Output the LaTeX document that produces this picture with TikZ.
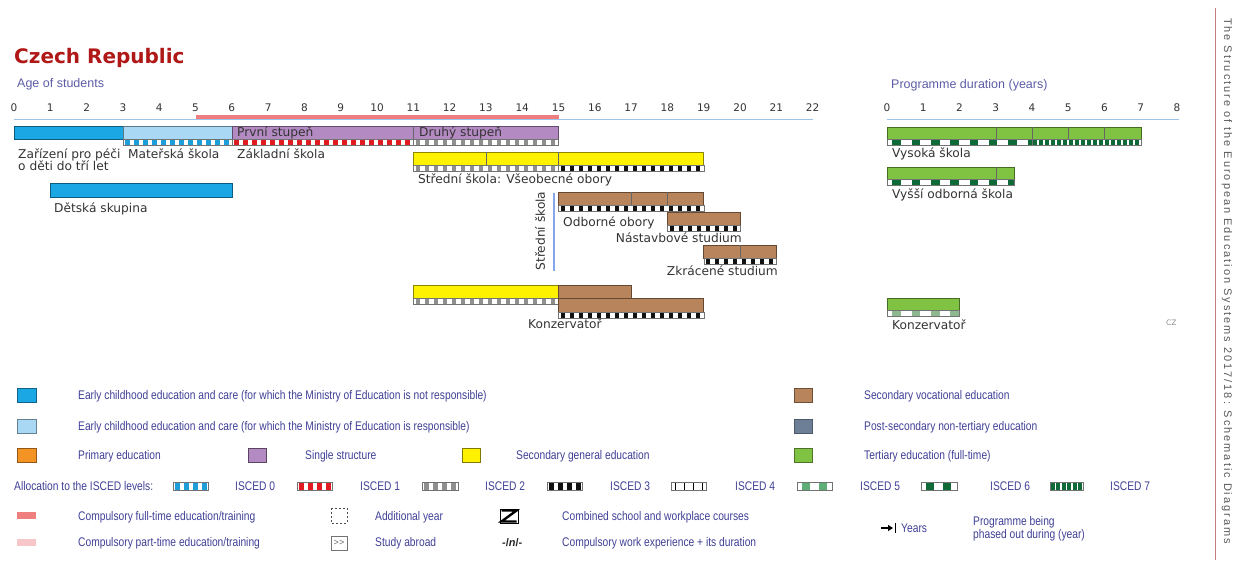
\documentclass[tikz,border=0pt]{standalone}
\usepackage{fontspec}
\setmainfont{DejaVu Sans}
\newfontfamily\arial{Liberation Sans}
\newfontfamily\narrow[FakeStretch=0.82]{Liberation Sans}
\newfontfamily\spaced[LetterSpace=18]{Liberation Sans}
\usetikzlibrary{arrows.meta}
\definecolor{ecblue}{HTML}{1AA7E4}
\definecolor{eclight}{HTML}{A8D8F3}
\definecolor{prim}{HTML}{F39323}
\definecolor{single}{HTML}{B38AC2}
\definecolor{secgen}{HTML}{FFF200}
\definecolor{secvoc}{HTML}{B8845B}
\definecolor{postsec}{HTML}{6D7F97}
\definecolor{tert}{HTML}{80C242}
\definecolor{titlered}{HTML}{B01818}
\definecolor{legtxt}{HTML}{3F3F96}
\definecolor{axblue}{HTML}{9CC3E8}
\definecolor{compred}{HTML}{EF7F7F}
\definecolor{comppink}{HTML}{F6C6C8}
\definecolor{labgray}{HTML}{333333}
\definecolor{is0}{HTML}{1E9ED8}
\definecolor{is1}{HTML}{E01B22}
\definecolor{is2}{HTML}{8F8F8F}
\definecolor{is3}{HTML}{111111}
\definecolor{is5}{HTML}{5FAE78}
\definecolor{is6}{HTML}{0E6A36}
\definecolor{is5k}{HTML}{8DB890}
\definecolor{sideline}{HTML}{C48080}
\newcommand\ax[1]{(14+36.3*(#1))}
\newcommand\dx[1]{(887+36.25*(#1))}
\newcommand\ebar[5]{%
  \filldraw[fill=#5,draw=#5!55!black,line width=0.5pt] ({#1},{#3}) rectangle ({#2},{#3+#4});}
\newcommand\estrip[7]{%
  \begin{scope}
    \clip ({#1},{#3}) rectangle ({#2},{#3+#4});
    \fill[white] ({#1},{#3}) rectangle ({#2},{#3+#4});
    \pgfmathtruncatemacro\nblk{((#2)-(#1))/(#6)+1}
    \foreach \k in {0,...,\nblk}
      \fill[#5] ({#1+\k*#6+(#6-#7)/2},{#3}) rectangle ++({#7},{#4});
  \end{scope}
  \draw[stripline] ({#1},{#3}) rectangle ({#2},{#3+#4});}
\newcommand\ediv[3]{\draw[divline] ({#1},{#2}) -- ({#1},{#2+#3});}
\tikzset{
  lbl/.style={font=\fontsize{12.2}{14}\selectfont, text=labgray, inner sep=0pt},
  tick/.style={font=\fontsize{10.5}{12}\selectfont, text=labgray, inner sep=0pt},
  leg/.style={font=\narrow\fontsize{12.5}{14}\selectfont, text=legtxt, inner sep=0pt, anchor=base west},
  axtitle/.style={font=\arial\fontsize{12.5}{14}\selectfont, text=legtxt!85, inner sep=0pt, anchor=base west},
  stripline/.style={draw=black!55, line width=0.4pt},
  divline/.style={draw=black!60, line width=0.5pt},
  legsq/.style={line width=0.5pt},
}
\begin{document}
\begin{tikzpicture}[x=1pt,y=-1pt]
\useasboundingbox (0,0) rectangle (1239,560);
% title
\node[font=\bfseries\fontsize{20}{24}\selectfont, text=titlered, inner sep=0pt, anchor=base west] (title) at (14,63) {Czech Republic};
\node[axtitle] (agetitle) at (17,87) {Age of students};
\node[axtitle] (durtitle) at (891,88) {Programme duration (years)};
% axes
\coordinate (axL) at (14,119.5); \coordinate (axR) at (813,119.5);
\draw[axblue, line width=1pt] (axL) -- (axR);
\coordinate (cpL) at ({\ax{5}},116.5); \coordinate (cpR) at ({\ax{15}},116.5);
\draw[compred, line width=4pt] (cpL) -- (cpR);
\foreach \i in {0,...,22} \node[tick] (t\i) at ({\ax{\i}},108) {\i};
\coordinate (dL) at (887,119.5); \coordinate (dR) at (1179,119.5);
\draw[axblue, line width=1pt] (dL) -- (dR);
\foreach \i in {0,...,8} \node[tick] (d\i) at ({\dx{\i}},108) {\i};
% ECEC and basic school
\ebar{\ax{0}}{\ax{3}}{126}{13}{ecblue}
\ebar{\ax{3}}{\ax{6}}{126}{13}{eclight}
\estrip{\ax{3}}{\ax{6}}{139}{6}{is0}{9}{4.5}
\ebar{\ax{6}}{\ax{15}}{126}{13}{single}
\ediv{\ax{11}}{126}{13}
\estrip{\ax{6}}{\ax{11}}{139}{6}{is1}{9}{4.5}
\estrip{\ax{11}}{\ax{15}}{139}{6}{is2}{9}{4.5}
\node[lbl, anchor=base west] (prvni) at (237,136) {První stupeň};
\node[lbl, anchor=base west] (druhy) at (419,136) {Druhý stupeň};
\node[lbl, anchor=base west] (zariz1) at (18,158) {Zařízení pro péči};
\node[lbl, anchor=base west] (zariz2) at (18,170) {o děti do tří let};
\node[lbl, anchor=base west] (mat) at (128,158) {Mateřská škola};
\node[lbl, anchor=base west] (zakl) at (237,158) {Základní škola};
\ebar{\ax{1}}{\ax{6}}{183}{14}{ecblue}
\node[lbl, anchor=base west] (detska) at (54,212) {Dětská skupina};
% secondary general
\ebar{\ax{11}}{\ax{19}}{152}{13}{secgen}
\ediv{\ax{13}}{152}{13}
\ediv{\ax{15}}{152}{13}
\estrip{\ax{11}}{\ax{15}}{165}{6}{is2}{9}{4.5}
\estrip{\ax{15}}{\ax{19}}{165}{6}{is3}{9}{4.5}
\node[lbl, anchor=base west] (vseob) at (418,183) {Střední škola: Všeobecné obory};
% secondary vocational
\coordinate (vs1) at (554,193); \coordinate (vs2) at (554,271);
\draw[axblue!85!blue, line width=1.2pt] (vs1) -- (vs2);
\node[lbl, rotate=90] (stredni) at (540,231) {Střední škola};
\ebar{\ax{15}}{\ax{19}}{192}{13}{secvoc}
\ediv{\ax{17}}{192}{13}
\ediv{\ax{18}}{192}{13}
\estrip{\ax{15}}{\ax{19}}{205}{6}{is3}{9}{4.5}
\node[lbl, anchor=base west] (odb) at (563,226) {Odborné obory};
\ebar{\ax{18}}{\ax{20}}{212}{13}{secvoc}
\estrip{\ax{18}}{\ax{20}}{225}{6}{is3}{9}{4.5}
\node[lbl, anchor=base east] (nast) at (742,242) {Nástavbové studium};
\ebar{\ax{19}}{\ax{21}}{245}{13}{secvoc}
\ediv{\ax{20}}{245}{13}
\estrip{\ax{19}}{\ax{21}}{258}{6}{is3}{9}{4.5}
\node[lbl, anchor=base east] (zkr) at (778,275) {Zkrácené studium};
% conservatoire
\ebar{\ax{11}}{\ax{15}}{285}{13}{secgen}
\estrip{\ax{11}}{\ax{15}}{298}{6}{is2}{9}{4.5}
\ebar{\ax{15}}{\ax{17}}{285}{13}{secvoc}
\ebar{\ax{15}}{\ax{19}}{298}{14}{secvoc}
\estrip{\ax{15}}{\ax{19}}{312}{6}{is3}{9}{4.5}
\node[lbl, anchor=base west] (konz) at (528,328) {Konzervatoř};
% tertiary
\ebar{\dx{0}}{\dx{7}}{127}{12}{tert}
\ediv{\dx{3}}{127}{12}
\ediv{\dx{4}}{127}{12}
\ediv{\dx{5}}{127}{12}
\ediv{\dx{6}}{127}{12}
\estrip{\dx{0}}{\dx{4}}{139}{6}{is6}{19.3}{8.5}
\estrip{\dx{4}}{\dx{7}}{139}{6}{is6}{6}{4.5}
\node[lbl, anchor=base west] (vs) at (892,157) {Vysoká škola};
\ebar{\dx{0}}{\dx{3.5}}{167}{12}{tert}
\ediv{\dx{3}}{167}{12}
\estrip{\dx{0}}{\dx{3.5}}{179}{6}{is6}{19.3}{8.5}
\node[lbl, anchor=base west] (vos) at (892,198) {Vyšší odborná škola};
\ebar{\dx{0}}{\dx{2}}{298}{12}{tert}
\estrip{\dx{0}}{\dx{2}}{310}{6}{is5k}{19.3}{8.5}
\node[lbl, anchor=base west] (konz2) at (892,329) {Konzervatoř};
\node[font=\fontsize{7.5}{8}\selectfont, text=black!45, inner sep=0pt, anchor=base west] (cz) at (1166,325) {CZ};
% side
\coordinate (sl1) at (1215,8); \coordinate (sl2) at (1215,560);
\draw[sideline, line width=0.8pt] (sl1) -- (sl2);
\node[font=\spaced\fontsize{11}{12}\selectfont, text=black!65, rotate=-90, inner sep=0pt] (side) at (1227,281) {The Structure of the European Education Systems 2017/18: Schematic Diagrams};
% legend squares
\filldraw[legsq, fill=ecblue, draw=ecblue!60!black] (17,388) rectangle (36,402);
\node[leg] (l1) at (78,399) {Early childhood education and care (for which the Ministry of Education is not responsible)};
\filldraw[legsq, fill=eclight, draw=eclight!60!black] (17,419) rectangle (36,433);
\node[leg] (l2) at (78,430) {Early childhood education and care (for which the Ministry of Education is responsible)};
\filldraw[legsq, fill=prim, draw=prim!60!black] (17,448) rectangle (36,462);
\node[leg] (l3) at (78,459) {Primary education};
\filldraw[legsq, fill=single, draw=single!50!black] (248,448) rectangle (266,462);
\node[leg] (l4) at (305,459) {Single structure};
\filldraw[legsq, fill=secgen, draw=secgen!50!black] (462,448) rectangle (480,462);
\node[leg] (l5) at (516,459) {Secondary general education};
\filldraw[legsq, fill=secvoc, draw=secvoc!60!black] (794,388) rectangle (812,402);
\node[leg] (l6) at (864,399) {Secondary vocational education};
\filldraw[legsq, fill=postsec, draw=postsec!70!black] (794,419) rectangle (812,433);
\node[leg] (l7) at (864,430) {Post-secondary non-tertiary education};
\filldraw[legsq, fill=tert, draw=tert!60!black] (794,448) rectangle (812,462);
\node[leg] (l8) at (864,459) {Tertiary education (full-time)};
% ISCED row
\node[leg] (alloc) at (14,490) {Allocation to the ISCED levels:};
\estrip{173}{208}{482}{8}{is0}{9}{4.5}
\node[leg] (i0) at (235,490) {ISCED 0};
\estrip{297}{332}{482}{8}{is1}{9}{4.5}
\node[leg] (i1) at (360,490) {ISCED 1};
\estrip{422}{458}{482}{8}{is2}{9}{4.5}
\node[leg] (i2) at (485,490) {ISCED 2};
\estrip{547}{582}{482}{8}{is3}{9}{4.5}
\node[leg] (i3) at (610,490) {ISCED 3};
\estrip{671}{706}{482}{8}{black}{9}{1.2}
\node[leg] (i4) at (735,490) {ISCED 4};
\estrip{797}{832}{482}{8}{is5}{17}{8}
\node[leg] (i5) at (860,490) {ISCED 5};
\estrip{921}{957}{482}{8}{is6}{17}{8}
\node[leg] (i6) at (990,490) {ISCED 6};
\estrip{1050}{1083}{482}{8}{is6}{5.5}{4}
\node[leg] (i7) at (1110,490) {ISCED 7};
% bottom rows
\fill[compred] (17,512) rectangle (36,519);
\node[leg] (cf) at (78,520) {Compulsory full-time education/training};
\fill[comppink] (17,539) rectangle (36,546);
\node[leg] (cp) at (78,546) {Compulsory part-time education/training};
\draw[black!70, line width=0.6pt, dash pattern=on 2pt off 2pt] (331,508) rectangle (347,523);
\node[leg] (addy) at (375,520) {Additional year};
\draw[black!55, line width=0.5pt] (331,536) rectangle (347,550);
\node[font=\arial\fontsize{9}{10}\selectfont, text=black!60, inner sep=0pt] (abr) at (339,543) {>{}>};
\node[leg] (sabr) at (375,546) {Study abroad};
\draw[black, line width=0.5pt] (500,509) rectangle (518,523);
\draw[black, line width=2.4pt, line join=miter] (501.5,510.5) -- (516.5,510.5) -- (501.5,521.5) -- (516.5,521.5);
\node[leg] (comb) at (562,520) {Combined school and workplace courses};
\node[font=\arial\bfseries\fontsize{11}{12}\selectfont, text=black!85, inner sep=0pt, anchor=base west] (nwe) at (502,546) {-/\textit{n}/-};
\node[leg] (cwe) at (562,546) {Compulsory work experience + its duration};
\coordinate (ya1) at (881,528); \coordinate (ya2) at (893,528);
\draw[black, line width=1.3pt, -{Triangle[length=5pt,width=6pt]}] (ya1) -- (ya2);
\coordinate (yb1) at (895.5,523); \coordinate (yb2) at (895.5,533);
\draw[black, line width=1.6pt] (yb1) -- (yb2);
\node[leg] (years) at (901,532) {Years};
\node[leg] (ph1) at (973,525) {Programme being};
\node[leg] (ph2) at (973,538) {phased out during (year)};
\end{tikzpicture}
\end{document}
